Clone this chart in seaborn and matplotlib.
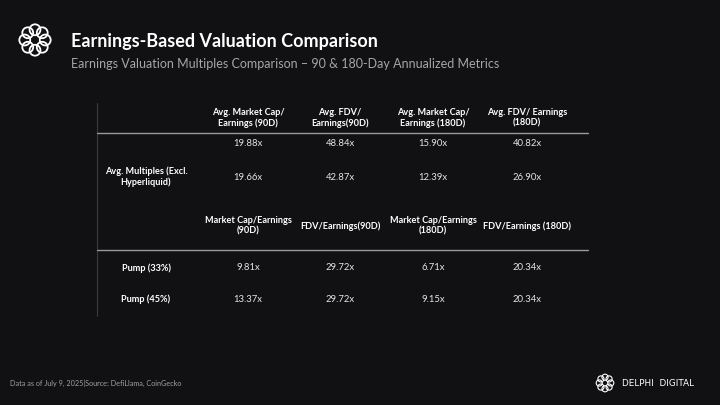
import numpy as np
import matplotlib
matplotlib.use("Agg")
import matplotlib.pyplot as plt
import seaborn as sns
from matplotlib.patches import Circle

# data
top_headers = ["Avg. Market Cap/\nEarnings (90D)", "Avg. FDV/\nEarnings(90D)",
               "Avg. Market Cap/\nEarnings (180D)", "Avg. FDV/ Earnings\n(180D)"]
avg_labels = ["", "Avg. Multiples (Excl.\nHyperliquid)"]
avg_values = [["19.88x", "48.84x", "15.90x", "40.82x"],
              ["19.66x", "42.87x", "12.39x", "26.90x"]]
pump_headers = ["Market Cap/Earnings\n(90D)", "FDV/Earnings(90D)",
                "Market Cap/Earnings\n(180D)", "FDV/Earnings (180D)"]
pump_labels = ["Pump (33%)", "Pump (45%)"]
pump_values = [["9.81x", "29.72x", "6.71x", "20.34x"],
               ["13.37x", "29.72x", "9.15x", "20.34x"]]

title = "Earnings-Based Valuation Comparison"
subtitle = "Earnings Valuation Multiples Comparison \u2013 90 & 180-Day Annualized Metrics"
footer = "Data as of July 9, 2025|Source: DefiLlama, CoinGecko"

BG = "#111113"
sns.set_theme(style="dark", rc={"axes.facecolor": BG, "figure.facecolor": BG})
plt.rcParams["font.family"] = ["Lato", "DejaVu Sans"]

fig = plt.figure(figsize=(7.2, 4.05), dpi=100)
ax = fig.add_axes([0, 0, 1, 1])
ax.set_xlim(0, 720)
ax.set_ylim(405, 0)
ax.axis("off")


def logo(cx, cy, r, lw):
    for a in np.linspace(0, 2 * np.pi, 8, endpoint=False):
        ax.add_patch(Circle((cx + r * 0.64 * np.cos(a), cy + r * 0.64 * np.sin(a)),
                            r * 0.34, fill=False, ec="white", lw=lw))


logo(35, 40, 16, 1.3)
logo(605, 383, 9, 0.8)

ax.text(71, 41, title, color="white", fontsize=13.0, fontweight="bold", va="center")
ax.text(71, 64, subtitle, color="#a6a6a6", fontsize=9.0, va="center")

col_x = [248, 340, 433, 527]
label_x = 146
fs = 6.6

# first block
for x, h in zip(col_x, top_headers):
    ax.text(x, 118, h, color="white", fontsize=fs, fontweight="bold",
            ha="center", va="center", linespacing=1.25)
for y, lab, row in zip([143, 177], avg_labels, avg_values):
    ax.text(label_x, y, lab, color="white", fontsize=fs, fontweight="bold",
            ha="center", va="center", linespacing=1.25)
    for x, v in zip(col_x, row):
        ax.text(x, y, v, color="#e4e4e4", fontsize=fs + 0.2, ha="center", va="center")

# second block
for x, h in zip(col_x, pump_headers):
    ax.text(x, 226, h, color="white", fontsize=fs, fontweight="bold",
            ha="center", va="center", linespacing=1.25)
for y, lab, row in zip([268, 299], pump_labels, pump_values):
    ax.text(label_x, y, lab, color="white", fontsize=fs, fontweight="bold",
            ha="center", va="center")
    for x, v in zip(col_x, row):
        ax.text(x, y, v, color="#e4e4e4", fontsize=fs + 0.2, ha="center", va="center")

# rules
ax.plot([97, 97], [103, 316], color="#3a3a3a", lw=0.8)
for y in [133, 250]:
    ax.plot([97, 588], [y, y], color="#9a9a9a", lw=1)

ax.text(10, 383, footer, color="#a0a0a0", fontsize=5.2, va="center")
ax.text(622, 383, "DELPHI  DIGITAL", color="white", fontsize=6.4, va="center",
        family="DejaVu Sans")

fig.savefig("out.png", dpi=100, facecolor=BG)
